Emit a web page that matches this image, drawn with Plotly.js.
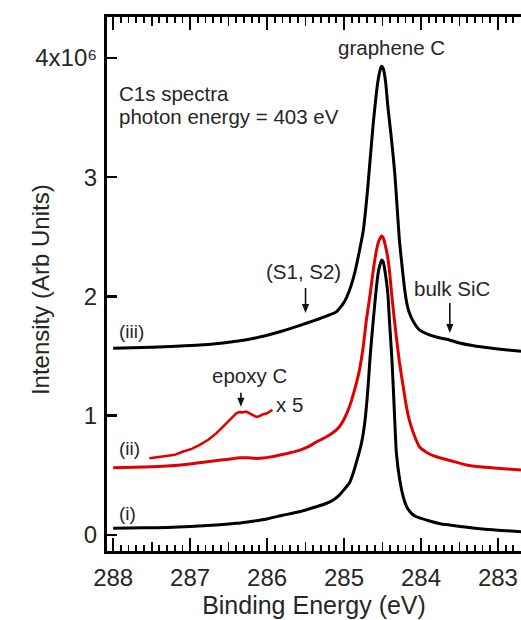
<!DOCTYPE html>
<html>
<head>
<meta charset="utf-8">
<script src="https://cdn.plot.ly/plotly-3.0.1.min.js"></script>
<style>html,body{margin:0;padding:0;background:#fff;}#chart{width:521px;height:620px;}</style>
</head>
<body>
<div id="chart"></div>
<script>
// Binding energy (eV) and intensity (x10^6 arb. units)
const energyIII = [288.0, 287.5, 287.0, 286.7, 286.45, 286.2, 286.0, 285.8, 285.58, 285.4, 285.23, 285.1, 285.0, 284.93, 284.86, 284.8, 284.75, 284.7, 284.66, 284.62, 284.58, 284.55, 284.52, 284.51, 284.49, 284.46, 284.43, 284.38, 284.34, 284.31, 284.28, 284.24, 284.21, 284.18, 284.15, 284.1, 284.02, 283.9, 283.8, 283.7, 283.63, 283.5, 283.35, 283.2, 283.0, 282.7];
const intensityIII = [1.565, 1.573, 1.588, 1.602, 1.62, 1.645, 1.675, 1.71, 1.755, 1.795, 1.835, 1.87, 1.95, 2.05, 2.2, 2.38, 2.55, 2.85, 3.15, 3.45, 3.7, 3.84, 3.92, 3.93, 3.91, 3.8, 3.59, 3.3, 3.03, 2.75, 2.47, 2.22, 2.05, 1.93, 1.86, 1.79, 1.72, 1.68, 1.66, 1.645, 1.635, 1.61, 1.59, 1.575, 1.56, 1.54];

const energyII = [288.0, 287.6, 287.3, 287.0, 286.8, 286.6, 286.45, 286.36, 286.25, 286.15, 286.05, 285.95, 285.8, 285.7, 285.58, 285.45, 285.36, 285.25, 285.15, 285.06, 285.0, 284.93, 284.87, 284.8, 284.75, 284.71, 284.66, 284.62, 284.58, 284.55, 284.52, 284.51, 284.49, 284.46, 284.43, 284.41, 284.37, 284.32, 284.28, 284.23, 284.19, 284.15, 284.09, 284.02, 283.92, 283.8, 283.6, 283.41, 283.2, 283.0, 282.7];
const intensityII = [0.564, 0.57, 0.578, 0.595, 0.612, 0.628, 0.64, 0.648, 0.647, 0.642, 0.645, 0.655, 0.675, 0.69, 0.71, 0.745, 0.78, 0.815, 0.855, 0.908, 0.97, 1.075, 1.2, 1.38, 1.58, 1.8, 2.02, 2.22, 2.38, 2.46, 2.5, 2.506, 2.49, 2.42, 2.32, 2.22, 1.95, 1.66, 1.45, 1.24, 1.08, 0.96, 0.84, 0.74, 0.69, 0.656, 0.62, 0.587, 0.57, 0.56, 0.545];

const energyI = [288.0, 287.6, 287.3, 287.0, 286.66, 286.4, 286.23, 286.0, 285.8, 285.58, 285.36, 285.25, 285.15, 285.06, 285.0, 284.93, 284.88, 284.83, 284.78, 284.75, 284.72, 284.69, 284.66, 284.62, 284.58, 284.55, 284.52, 284.51, 284.49, 284.46, 284.43, 284.41, 284.38, 284.36, 284.34, 284.32, 284.28, 284.23, 284.18, 284.12, 284.06, 283.9, 283.75, 283.63, 283.4, 283.2, 283.0, 282.7];
const intensityI = [0.056, 0.06, 0.064, 0.072, 0.084, 0.098, 0.112, 0.135, 0.165, 0.195, 0.237, 0.26, 0.29, 0.335, 0.38, 0.435, 0.52, 0.63, 0.75, 0.85, 1.0, 1.22, 1.5, 1.8, 2.07, 2.22, 2.29, 2.305, 2.29, 2.18, 2.02, 1.8, 1.5, 1.24, 0.95, 0.69, 0.48, 0.32, 0.23, 0.18, 0.153, 0.12, 0.095, 0.084, 0.065, 0.05, 0.04, 0.028];

const energyX5 = [287.53, 287.45, 287.38, 287.31, 287.2, 287.10, 286.98, 286.88, 286.76, 286.66, 286.53, 286.45, 286.40, 286.36, 286.32, 286.27, 286.23, 286.18, 286.14, 286.1, 286.06, 286.0, 285.93];
const intensityX5 = [0.643, 0.652, 0.66, 0.662, 0.672, 0.698, 0.722, 0.754, 0.80, 0.852, 0.936, 0.99, 1.02, 1.03, 1.028, 1.035, 1.02, 1.0, 0.99, 0.995, 1.01, 1.02, 1.05];

const yTickVals = [0, 1, 2, 3, 4];
const yTickText = ['0', '1', '2', '3', '4x10\u2076'];
const xHalfTicks = [282.5, 283.5, 284.5, 285.5, 286.5, 287.5];

const black = '#000000';
const red = '#e00000';
const txt = '#262626';
const fontFam = 'Liberation Sans, Arial, sans-serif';

const lineStyle = (c) => ({color: c, width: 3, shape: 'spline', smoothing: 0.5});

const traces = [
  {x: energyI, y: intensityI, type: 'scatter', mode: 'lines', line: lineStyle(black), name: '(i)'},
  {x: energyII, y: intensityII, type: 'scatter', mode: 'lines', line: lineStyle(red), name: '(ii)'},
  {x: energyX5, y: intensityX5, type: 'scatter', mode: 'lines', line: {color: red, width: 2.5}, name: '(ii) x5'},
  {x: energyIII, y: intensityIII, type: 'scatter', mode: 'lines', line: lineStyle(black), name: '(iii)'},
  {x: [], y: [], xaxis: 'x2', type: 'scatter', showlegend: false}
];

const ann = (x, y, text, opts) => Object.assign({x: x, y: y, xref: 'x', yref: 'y', text: text, showarrow: false,
  font: {family: fontFam, size: 20.5, color: txt}}, opts || {});
const smallFont = {family: fontFam, size: 19, color: txt};

// downward arrows: shaft + head, anchored at the tip (data coords), sized in pixels
const arrowShapes = (x, y, len) => [
  {type: 'line', xref: 'x', yref: 'y', xsizemode: 'pixel', ysizemode: 'pixel', xanchor: x, yanchor: y,
    x0: 0, x1: 0, y0: 6, y1: len, line: {color: '#111', width: 1.6}},
  {type: 'path', xref: 'x', yref: 'y', xsizemode: 'pixel', ysizemode: 'pixel', xanchor: x, yanchor: y,
    path: 'M0,0 L-3.6,9 L3.6,9 Z', fillcolor: '#111', line: {width: 0}}
];

const layout = {
  width: 521, height: 620,
  margin: {l: 107, r: 0, t: 17, b: 69},
  paper_bgcolor: '#fff', plot_bgcolor: '#fff',
  showlegend: false,
  font: {family: fontFam, color: txt, size: 24},
  xaxis: {
    range: [288.08, 282.70], autorange: false,
    tickmode: 'linear', tick0: 283, dtick: 1,
    ticks: 'inside', ticklen: 13, tickwidth: 2, tickcolor: '#000',
    minor: {dtick: 0.1, tick0: 283, ticks: 'inside', ticklen: 6, tickwidth: 1.8, tickcolor: '#000', showgrid: false},
    showline: true, linewidth: 3, linecolor: '#000', mirror: 'ticks',
    showgrid: false, zeroline: false,
    tickfont: {size: 24, color: txt}, ticklabelstandoff: 3,
    title: {text: 'Binding Energy (eV)', font: {size: 25, color: txt}, standoff: 4}
  },
  xaxis2: {
    overlaying: 'x', anchor: 'y', matches: 'x', range: [288.08, 282.70],
    tickmode: 'array', tickvals: xHalfTicks, showticklabels: false,
    ticks: 'inside', ticklen: 9, tickwidth: 1.8, tickcolor: '#000',
    showline: false, mirror: 'ticks', showgrid: false, zeroline: false
  },
  yaxis: {
    range: [-0.134, 4.342], autorange: false,
    tickmode: 'array', tickvals: yTickVals, ticktext: yTickText,
    ticks: 'inside', ticklen: 10, tickwidth: 2.5, tickcolor: '#000',
    showline: true, linewidth: 3, linecolor: '#000',
    showgrid: false, zeroline: false,
    tickfont: {size: 24, color: txt}, ticklabelstandoff: 2
  },
  shapes: [].concat(
    arrowShapes(285.50, 1.861, 25),
    arrowShapes(283.625, 1.693, 30),
    arrowShapes(286.34, 1.075, 14)
  ),
  annotations: [
    {x: -0.16, y: 0.49, xref: 'paper', yref: 'paper', xanchor: 'center', yanchor: 'middle',
      text: 'Intensity (Arb Units)', textangle: -90, showarrow: false,
      font: {family: fontFam, size: 24, color: txt}},
    ann(284.38, 4.09, 'graphene C'),
    ann(287.95, 3.705, 'C1s spectra', {xanchor: 'left'}),
    ann(287.95, 3.504, 'photon energy = 403 eV', {xanchor: 'left'}),
    ann(285.53, 2.205, '(S1, S2)'),
    ann(283.59, 2.07, 'bulk SiC'),
    ann(286.23, 1.341, 'epoxy C'),
    ann(285.71, 1.09, 'x 5'),
    ann(287.95, 1.704, '(iii)', {xanchor: 'left', font: smallFont}),
    ann(287.95, 0.729, '(ii)', {xanchor: 'left', font: smallFont}),
    ann(287.95, 0.184, '(i)', {xanchor: 'left', font: smallFont})
  ]
};

Plotly.newPlot('chart', traces, layout, {staticPlot: true, displayModeBar: false});
</script>
</body>
</html>
